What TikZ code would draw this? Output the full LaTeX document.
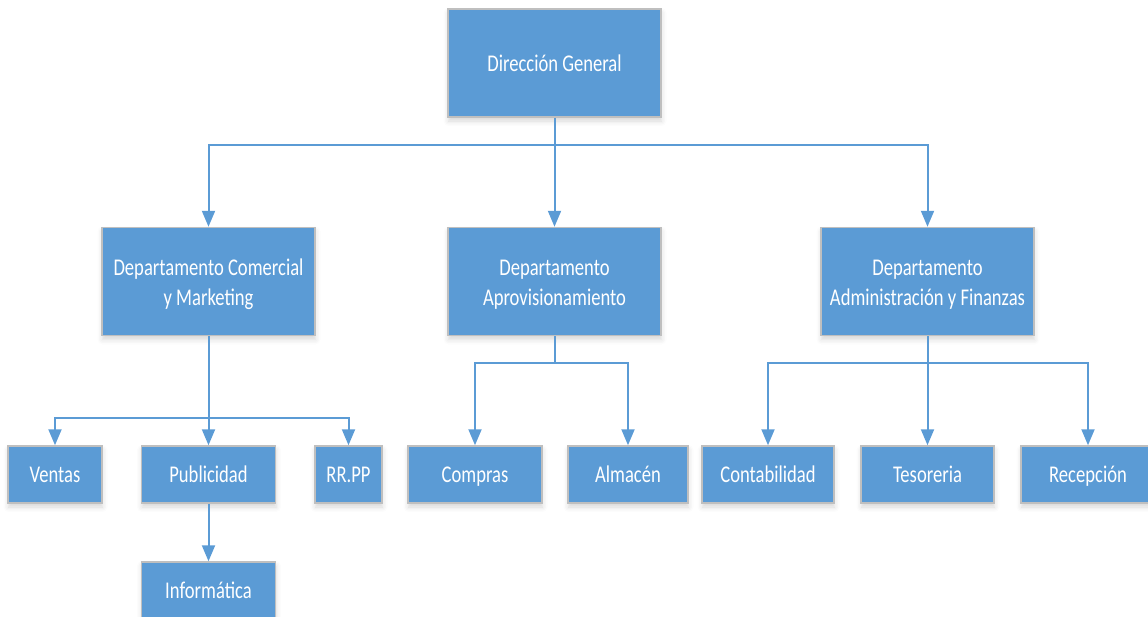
\documentclass[tikz,border=0pt]{standalone}
\usepackage{fontspec}
\newfontfamily\orgfont[FakeStretch=0.775]{Carlito}
\usetikzlibrary{arrows.meta,shadows.blur}
\definecolor{boxblue}{HTML}{5B9BD5}
\definecolor{boxedge}{HTML}{BFBFBF}
\tikzset{
  unit/.style={draw=boxedge, line width=1.5pt, fill=boxblue, text=white,
    align=center, inner sep=0pt,
    font=\orgfont\fontsize{24}{30}\selectfont,
    blur shadow={shadow xshift=0.5pt, shadow yshift=-4pt, shadow opacity=16, shadow blur radius=5pt}},
  big/.style={unit, minimum width=213pt, minimum height=108pt},
  small/.style={unit, minimum height=57pt, text height=15.5pt, text depth=0pt},
  boxtext/.style={text=white, align=center, inner sep=0pt,
    font=\orgfont\fontsize{24}{30}\selectfont, yshift=-3pt},
  link/.style={draw=boxblue, line width=2pt},
  arrowlink/.style={link, -{Triangle[width=13pt,length=16pt]}}
}
\begin{document}
\begin{tikzpicture}[x=1pt, y=-1pt]
  \useasboundingbox (0,0) rectangle (1148,616);
  \clip (0,0) rectangle (1148,616);

  % top level
  \node[big] (dg) at (554.5,63) {Dirección General};

  % departments (two-line captions set as centred labels)
  \node[big, label={[boxtext, name=comtext]center:Departamento Comercial\\y Marketing}]
    (com) at (208.5,281.5) {};
  \node[big, label={[boxtext, name=aprtext]center:Departamento\\Aprovisionamiento}]
    (apr) at (554.5,281.5) {};
  \node[big, label={[boxtext, name=admtext]center:Departamento\\Administración y Finanzas}]
    (adm) at (927.5,281.5) {};

  % units
  \node[small, minimum width=94pt]  (ven) at (55,474.5)    {Ventas};
  \node[small, minimum width=134pt] (pub) at (208.5,474.5) {Publicidad};
  \node[small, minimum width=67pt]  (rrp) at (348.5,474.5) {RR.PP};
  \node[small, minimum width=134pt] (inf) at (208.5,590.5) {Informática};
  \node[small, minimum width=134pt] (cmp) at (475,474.5)   {Compras};
  \node[small, minimum width=120pt] (alm) at (628,474.5)   {Almacén};
  \node[small, minimum width=132pt] (con) at (768,474.5)   {Contabilidad};
  \node[small, minimum width=133pt] (tes) at (927.5,474.5) {Tesoreria};
  \node[small, minimum width=134pt] (rec) at (1088,474.5)  {Recepción};

  % junction points of the branches
  \coordinate (jdg)  at (554.5,145);
  \coordinate (jcom) at (208.5,418);
  \coordinate (japr) at (554.5,363);
  \coordinate (jadm) at (927.5,363);

  % connectors
  \draw[link] (dg.south) -- (jdg);
  \draw[arrowlink] (jdg) -| (com.north);
  \draw[arrowlink] (jdg) -- (apr.north);
  \draw[arrowlink] (jdg) -| (adm.north);

  \draw[link] (com.south) -- (jcom);
  \draw[arrowlink] (jcom) -| (ven.north);
  \draw[arrowlink] (jcom) -- (pub.north);
  \draw[arrowlink] (jcom) -| (rrp.north);
  \draw[arrowlink] (pub.south) -- (inf.north);

  \draw[link] (apr.south) -- (japr);
  \draw[arrowlink] (japr) -| (cmp.north);
  \draw[arrowlink] (japr) -| (alm.north);

  \draw[link] (adm.south) -- (jadm);
  \draw[arrowlink] (jadm) -| (con.north);
  \draw[arrowlink] (jadm) -- (tes.north);
  \draw[arrowlink] (jadm) -| (rec.north);
\end{tikzpicture}
\end{document}
